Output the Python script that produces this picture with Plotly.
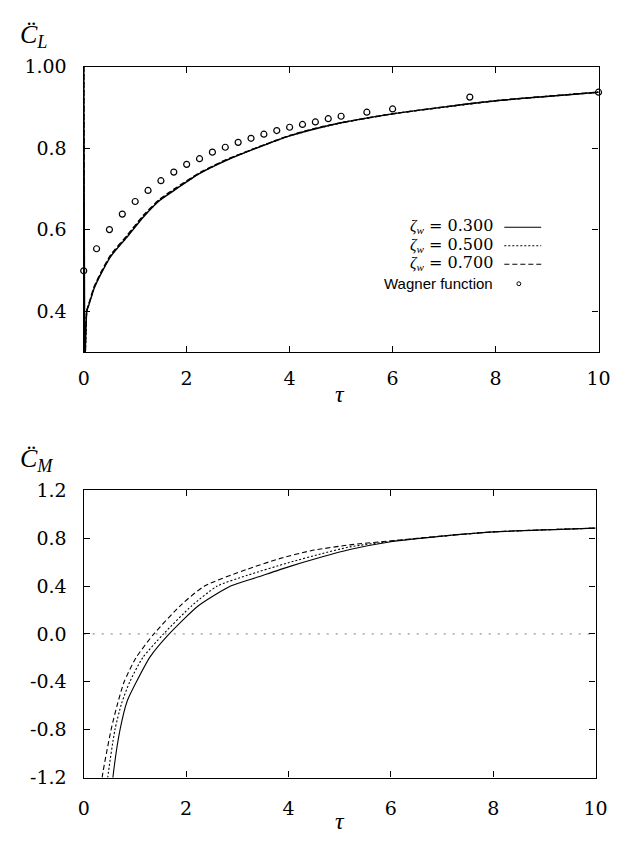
import plotly.graph_objects as go

# ---------------- data ----------------
# upper panel: lift coefficient
TAU_CL = [0.0, 0.02, 0.06, 0.10, 0.20, 0.35, 0.53, 0.85, 1.16, 1.48, 1.80, 2.23,
          2.74, 3.36, 4.00, 4.62, 5.00, 6.00, 8.00, 10.0]
CL_Z03 = [1.10, 0.25, 0.400, 0.415, 0.455, 0.495, 0.535, 0.583, 0.631, 0.672, 0.700,
          0.736, 0.768, 0.800, 0.830, 0.851, 0.862, 0.884, 0.916, 0.937]
CL_Z05 = [1.10, 0.25, 0.401, 0.417, 0.457, 0.497, 0.537, 0.585, 0.633, 0.673, 0.701,
          0.737, 0.769, 0.801, 0.830, 0.851, 0.862, 0.884, 0.916, 0.937]
CL_Z07 = [1.10, 0.25, 0.402, 0.418, 0.459, 0.499, 0.539, 0.587, 0.635, 0.675, 0.703,
          0.738, 0.770, 0.801, 0.831, 0.852, 0.862, 0.884, 0.916, 0.937]

WAGNER_TAU = [0.0, 0.25, 0.5, 0.75, 1.0, 1.25, 1.5, 1.75, 2.0, 2.25, 2.5, 2.75, 3.0,
              3.25, 3.5, 3.75, 4.0, 4.25, 4.5, 4.75, 5.0, 5.5, 6.0, 7.5, 10.0]
WAGNER_CL = [0.499, 0.553, 0.600, 0.638, 0.669, 0.696, 0.720, 0.741, 0.760, 0.774,
             0.790, 0.802, 0.814, 0.824, 0.834, 0.843, 0.851, 0.858, 0.864, 0.872,
             0.878, 0.888, 0.896, 0.925, 0.937]

# lower panel: moment coefficient
TAU_CM_Z03 = [0.53, 0.57, 0.71, 0.85, 1.03, 1.30, 1.67, 2.24, 2.87, 3.40, 4.00, 4.63,
              5.20, 6.00, 7.00, 8.00, 10.0]
CM_Z03 = [-1.40, -1.20, -0.80, -0.56, -0.40, -0.19, 0.00, 0.235, 0.400, 0.475, 0.560,
          0.640, 0.705, 0.770, 0.817, 0.852, 0.884]
TAU_CM_Z05 = [0.44, 0.47, 0.61, 0.74, 0.90, 1.15, 1.56, 2.11, 2.61, 3.20, 4.00, 4.63,
              5.20, 6.00, 7.00, 8.00, 10.0]
CM_Z05 = [-1.40, -1.20, -0.80, -0.58, -0.40, -0.20, 0.00, 0.235, 0.400, 0.490, 0.595,
          0.668, 0.727, 0.774, 0.817, 0.852, 0.884]
TAU_CM_Z07 = [0.33, 0.36, 0.535, 0.65, 0.79, 1.02, 1.37, 1.92, 2.36, 3.18, 3.81, 4.44,
              5.20, 6.00, 7.00, 8.00, 10.0]
CM_Z07 = [-1.40, -1.20, -0.80, -0.60, -0.40, -0.20, 0.00, 0.249, 0.400, 0.538, 0.627,
          0.695, 0.744, 0.778, 0.817, 0.852, 0.884]

X_TICKS = [0, 2, 4, 6, 8, 10]
X_TICKTEXT = ["0", "2", "4", "6", "8", "10"]
CL_TICKS = [0.4, 0.6, 0.8, 1.0]
CL_TICKTEXT = ["0.4", "0.6", "0.8", "1.00"]
CM_TICKS = [-1.2, -0.8, -0.4, 0.0, 0.4, 0.8, 1.2]
CM_TICKTEXT = ["-1.2", "-0.8", "-0.4", "0.0", "0.4", "0.8", "1.2"]

LEGEND_LABELS = ["0.300", "0.500", "0.700"]

# ---------------- styling ----------------
W, H = 628, 849
SERIF = "DejaVu Serif"
MATH = "Liberation Serif"
SANS = "Liberation Sans"
DASHES = ["solid", "2px,2px", "5px,3px"]


def px(x):
    return x / W


def py(y):
    return 1 - y / H


fig = go.Figure()

for vals, dash in zip([CL_Z03, CL_Z05, CL_Z07], DASHES):
    fig.add_trace(go.Scatter(x=TAU_CL, y=vals, mode="lines", xaxis="x", yaxis="y",
                             line=dict(color="black", width=1.4, dash=dash,
                                       shape="spline", smoothing=0.5),
                             showlegend=False))
fig.add_trace(go.Scatter(x=WAGNER_TAU, y=WAGNER_CL, mode="markers", xaxis="x", yaxis="y",
                         marker=dict(symbol="circle-open", size=6, color="black",
                                     line=dict(width=1.2)),
                         cliponaxis=False, showlegend=False))

for tx, vals, dash in zip([TAU_CM_Z03, TAU_CM_Z05, TAU_CM_Z07],
                          [CM_Z03, CM_Z05, CM_Z07], DASHES):
    fig.add_trace(go.Scatter(x=tx, y=vals, mode="lines", xaxis="x2", yaxis="y2",
                             line=dict(color="black", width=1.1, dash=dash,
                                       shape="spline", smoothing=0.6),
                             showlegend=False))

axis_common = dict(showline=True, linecolor="black", linewidth=1.4, mirror="ticks",
                   ticks="inside", ticklen=6, tickwidth=1.2, tickcolor="black",
                   showgrid=False, zeroline=False,
                   tickfont=dict(family=SERIF, size=19, color="black"))

fig.update_layout(
    width=W, height=H, margin=dict(l=0, r=0, t=0, b=0),
    paper_bgcolor="white", plot_bgcolor="white",
    xaxis=dict(domain=[px(80), px(610)], range=[0, 10], anchor="y",
               tickvals=X_TICKS, ticktext=X_TICKTEXT, ticklabelstandoff=9, **axis_common),
    yaxis=dict(domain=[py(350), py(57)], range=[0.3, 1.0], anchor="x",
               tickvals=CL_TICKS, ticktext=CL_TICKTEXT, ticklabelstandoff=12, **axis_common),
    xaxis2=dict(domain=[px(80), px(607)], range=[0, 10], anchor="y2",
                tickvals=X_TICKS, ticktext=X_TICKTEXT, ticklabelstandoff=13, **axis_common),
    yaxis2=dict(domain=[py(787), py(492)], range=[-1.2, 1.2], anchor="x2",
                tickvals=CM_TICKS, ticktext=CM_TICKTEXT, ticklabelstandoff=12, **axis_common),
    showlegend=False,
)

# dotted zero reference line in the lower panel
fig.add_shape(type="line", xref="x2 domain", yref="y2", x0=0, x1=1, y0=0, y1=0,
              line=dict(color="#777777", width=1, dash="2px,7px"), layer="below")

annotations = []
# axis titles
annotations.append(dict(x=px(12), y=py(26), xref="paper", yref="paper", xanchor="left",
                        yanchor="middle", showarrow=False,
                        text="<i>C̈</i><sub><i>L</i></sub>",
                        font=dict(family=MATH, size=26, color="black")))
annotations.append(dict(x=px(12), y=py(461), xref="paper", yref="paper", xanchor="left",
                        yanchor="middle", showarrow=False,
                        text="<i>C̈</i><sub><i>M</i></sub>",
                        font=dict(family=MATH, size=26, color="black")))
for yy in (393, 832):
    annotations.append(dict(x=px(344), y=py(yy), xref="paper", yref="paper",
                            xanchor="center", yanchor="middle", showarrow=False,
                            text="<i>τ</i>", font=dict(family=MATH, size=24, color="black")))

# legend (text on the left, sample on the right)
rows = [222, 241, 260]
for lab, yy, dash in zip(LEGEND_LABELS, rows, DASHES):
    annotations.append(dict(x=px(503), y=py(yy - 1), xref="paper", yref="paper",
                            xanchor="right", yanchor="middle", showarrow=False,
                            text=f"<span style='font-family:{MATH}'><i>ζ</i><sub><i>w</i></sub></span> = {lab}",
                            font=dict(family=SERIF, size=16, color="black")))
    fig.add_shape(type="line", xref="paper", yref="paper", x0=px(513), x1=px(551),
                  y0=py(yy), y1=py(yy), line=dict(color="black", width=1.2, dash=dash))
annotations.append(dict(x=px(503), y=py(280), xref="paper", yref="paper",
                        xanchor="right", yanchor="middle", showarrow=False,
                        text="Wagner function",
                        font=dict(family=SANS, size=15, color="black")))
fig.add_shape(type="circle", xref="paper", yref="paper",
              x0=px(526), x1=px(530), y0=py(282), y1=py(278),
              line=dict(color="black", width=1))

fig.update_layout(annotations=annotations)

fig.write_html("out.html")
